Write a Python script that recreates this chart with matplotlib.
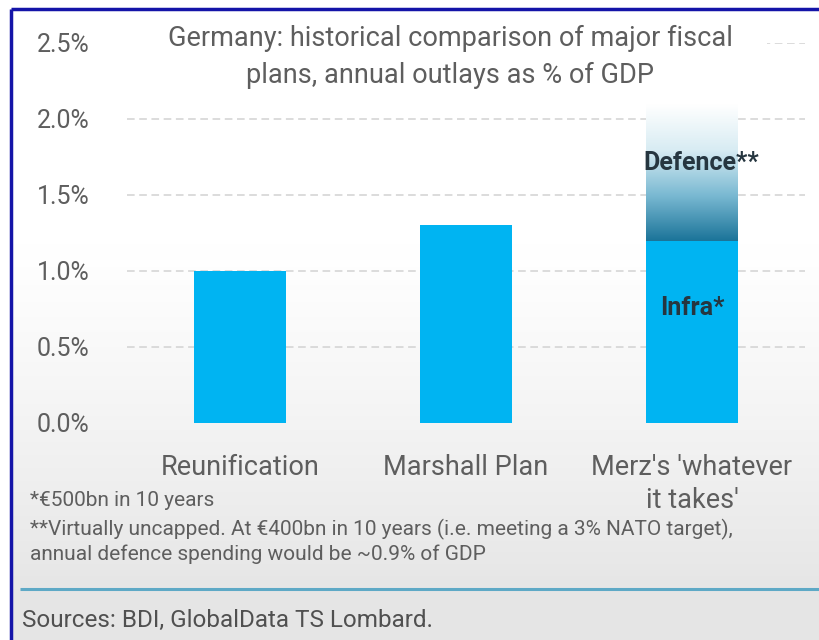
import numpy as np
import matplotlib
matplotlib.use("Agg")
import matplotlib.pyplot as plt
from matplotlib.colors import LinearSegmentedColormap
from matplotlib.patches import Rectangle

# ---- data -------------------------------------------------------------
categories = ["Reunification", "Marshall Plan", "Merz's 'whatever\nit takes'"]
base_values = [1.0, 1.3, 1.2]          # % of GDP (Infra for Merz)
defence_value = 0.9                    # % of GDP stacked on Merz's plan
yticks = [0.0, 0.5, 1.0, 1.5, 2.0, 2.5]
ytick_labels = ["0.0%", "0.5%", "1.0%", "1.5%", "2.0%", "2.5%"]

title = "Germany: historical comparison of major fiscal\nplans, annual outlays as % of GDP"
notes = ["*€500bn in 10 years",
         "**Virtually uncapped. At €400bn in 10 years (i.e. meeting a 3% NATO target),",
         "annual defence spending would be ~0.9% of GDP"]
sources = "Sources: BDI, GlobalData TS Lombard."

# ---- style ------------------------------------------------------------
plt.rcParams["font.family"] = ["Roboto", "DejaVu Sans"]
BAR = "#00b4f2"
TXT = "#5e5e5e"
W, H = 820, 640

fig = plt.figure(figsize=(W / 100, H / 100), dpi=100)
fig.patch.set_facecolor("white")

# page background: white fading to light grey, footer band below rule
bg = fig.add_axes([0, 0, 1, 1], zorder=-10)
bg.set_xlim(0, W)
bg.set_ylim(H, 0)
bg.axis("off")
grad = np.linspace(0, 1, 256)[:, None]
grad = np.clip((grad - 0.4) / 0.6, 0, 1) ** 1.2
grey_cmap = LinearSegmentedColormap.from_list("bgfade", ["#ffffff", "#e6e6e6"])
bg.imshow(grad, extent=[10, W, 589, 10], cmap=grey_cmap, aspect="auto", vmin=0, vmax=1)
bg.add_patch(Rectangle((10, 589), W - 10, H - 589, color="#e5e5e5", lw=0))
bg.plot([20, W], [589, 589], color="#5ea9c6", lw=2.2, solid_capstyle="butt")
# frame lines along the top and left edge
bg.plot([11, W], [9, 9], color="#1414a8", lw=2.5, solid_capstyle="butt")
bg.plot([11, 11], [9, H], color="#1414a8", lw=2.5, solid_capstyle="butt")

# ---- chart axes -------------------------------------------------------
ax = fig.add_axes([127 / W, (H - 423) / H, 678 / W, 380 / H])
ax.set_facecolor("none")
x = np.arange(len(categories))
bw = 0.405

for yv in yticks[1:]:
    ax.axhline(yv, color="#d2d2d2", lw=1.1, ls=(0, (5, 3)), zorder=0)
# title sits over the top grid line
ax.add_patch(Rectangle((-0.5, 2.4), 2.83, 0.2, color="white", lw=0, zorder=1, clip_on=False))

ax.bar(x, base_values, width=bw, color=BAR, zorder=2)

# defence segment: dark teal fading to white upward
fade = LinearSegmentedColormap.from_list("def", ["#ffffff", "#d8ecf3", "#7ab9d2", "#1b7499"])
g = np.linspace(0, 1, 256)[:, None]
x0 = x[2] - bw / 2
y0 = base_values[2]
ax.imshow(g, extent=[x0, x0 + bw, y0, y0 + defence_value], origin="upper",
          cmap=fade, aspect="auto", zorder=2)
ax.set_xlim(-0.5, 2.5)
ax.set_ylim(0, 2.5)

ax.text(x[2] + 0.04, y0 + defence_value * 0.57, "Defence**", ha="center", va="center",
        fontsize=18, fontweight="bold", color="#263640", zorder=3)
ax.text(x[2], base_values[2] * 0.63, "Infra*", ha="center", va="center",
        fontsize=18, fontweight="bold", color="#263640", zorder=3)

ax.set_yticks(yticks)
ax.set_yticklabels(ytick_labels, fontsize=18, color=TXT)
ax.set_xticks(x)
ax.set_xticklabels(categories, fontsize=19.5, color=TXT, linespacing=1.3)
ax.tick_params(axis="y", length=0, pad=27)
ax.tick_params(axis="x", length=0, pad=22)
for s in ax.spines.values():
    s.set_visible(False)

fig.text(450 / W, 1 - 57 / H, title, ha="center", va="center", fontsize=19.5,
         color=TXT, linespacing=1.5)

fig.text(30 / W, 1 - 501 / H, notes[0], fontsize=15, color=TXT, va="center")
fig.text(30 / W, 1 - 529 / H, notes[1], fontsize=15, color=TXT, va="center")
fig.text(30 / W, 1 - 554 / H, notes[2], fontsize=15, color=TXT, va="center")
fig.text(22 / W, 1 - 620 / H, sources, fontsize=17.5, color="#505050", va="center")

fig.savefig("out.png", dpi=100)
